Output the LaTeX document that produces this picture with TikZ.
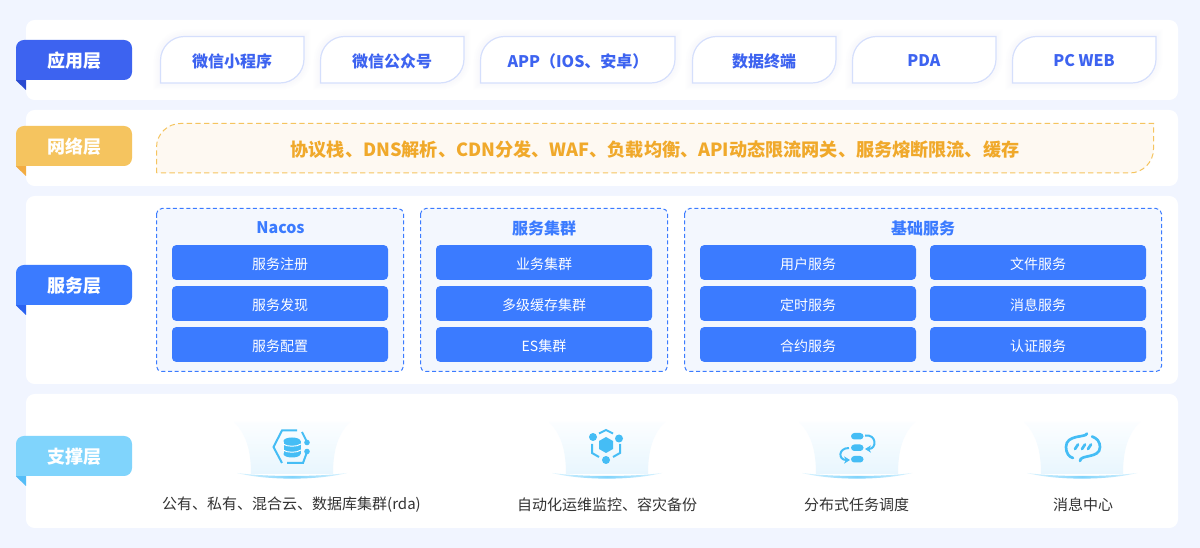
\documentclass[tikz,border=0pt]{standalone}
\usepackage{fontspec}
\setmainfont{Noto Sans CJK SC}
\usetikzlibrary{arrows.meta}

\definecolor{pageBg}{HTML}{F1F5FF}
\definecolor{appBlue}{HTML}{3D63F0}
\definecolor{appFold}{HTML}{2A4AD0}
\definecolor{pillEdge}{HTML}{D5DFFC}
\definecolor{netGold}{HTML}{F5C45F}
\definecolor{netFold}{HTML}{F2AC42}
\definecolor{netFill}{HTML}{FEF9F2}
\definecolor{netText}{HTML}{F0A92B}
\definecolor{svcBlue}{HTML}{3B7BFF}
\definecolor{svcFold}{HTML}{2A62F0}
\definecolor{svcFill}{HTML}{F3F7FE}
\definecolor{supBlue}{HTML}{80D4FC}
\definecolor{supFold}{HTML}{55BDF7}
\definecolor{iconBlue}{HTML}{45BDF5}
\definecolor{baseFill}{HTML}{E8F6FE}
\definecolor{labelGrey}{HTML}{333333}

\tikzset{
    panelbox/.style={fill=white, rounded corners=6.5pt, draw=none},
    tagtext/.style={text=white, font=\fontsize{13.5pt}{15pt}\selectfont\bfseries, inner sep=0pt},
    pilltext/.style={text=appBlue, font=\fontsize{12pt}{14pt}\selectfont\bfseries, inner sep=0pt},
    grouptitle/.style={text=svcBlue, font=\fontsize{12pt}{14pt}\selectfont\bfseries, inner sep=0pt},
    groupbox/.style={draw=svcBlue, fill=svcFill, line width=0.75pt, dash pattern=on 3pt off 2pt, rounded corners=4pt},
    svcbox/.style={fill=svcBlue, text=white, rounded corners=3pt, minimum width=162pt, minimum height=26pt,
        inner sep=0pt, text height=10.5pt, text depth=0.5pt, font=\fontsize{10.5pt}{12pt}\selectfont},
    suplabel/.style={text=labelGrey, font=\fontsize{11.25pt}{13pt}\selectfont, inner sep=0pt},
    iconline/.style={draw=iconBlue, line width=1.5pt},
}

% Layer tag with its small fold
\newcommand{\layertag}[5]{
    \fill[#3] (16, #2+39) -- (26, #2+39) -- (26, #2+50) -- (16, #2+40.5) -- cycle;
    \fill[#4] (16, #2+40) -- (16, #2+8) .. controls (16, #2+3.5) and (19.5, #2) .. (24, #2) -- (124, #2)
        .. controls (128.5, #2) and (132, #2+3.5) .. (132, #2+8) -- (132, #2+32)
        .. controls (132, #2+36.5) and (128.5, #2+40) .. (124, #2+40) -- cycle;
    \node[tagtext] (#1) at (74, #2+21) {#5};
}

% Client pill, two corners rounded
\newcommand{\pillpath}[2]{(#1, 83) -- (#1, 60.5) .. controls (#1, 47.25) and (#1+10.75, 36.5) .. (#1+24, 36.5) -- (#2, 36.5)
    -- (#2, 59) .. controls (#2, 72.25) and (#2-10.75, 83) .. (#2-24, 83) -- cycle}
\newcommand{\apppill}[5]{
    \foreach \w/\o in {10/0.03, 7/0.04, 4/0.05} {
        \draw[pillEdge, line width=\w pt, opacity=\o] \pillpath{#2}{#3};
    }
    \draw[pillEdge, fill=white, line width=0.9pt] \pillpath{#2}{#3};
    \node[pilltext] (#1) at (#4, 61) {#5};
}

% Pedestal under each support icon
\newcommand{\pedestal}[1]{
    \shade[top color=baseFill!15!white, bottom color=baseFill] (#1-58, 422) .. controls (#1-46, 434) and (#1-41, 450) .. (#1-41, 474)
        -- (#1+41, 474) .. controls (#1+41, 450) and (#1+46, 434) .. (#1+58, 422) -- cycle;
    \shade[left color=supBlue!25, right color=supBlue!25, middle color=supBlue]
        (#1-55, 473) .. controls (#1-25, 480.5) and (#1+25, 480.5) .. (#1+55, 473)
        .. controls (#1+25, 477) and (#1-25, 477) .. (#1-55, 473) -- cycle;
}

\begin{document}
\begin{tikzpicture}[x=0.75pt, y=-0.75pt]
    \useasboundingbox (0, 0) rectangle (1200, 548);
    \fill[pageBg] (0, 0) rectangle (1200, 548);

    % White panels
    \fill[panelbox] (26, 20) rectangle (1178, 100);
    \fill[panelbox] (26, 110) rectangle (1178, 186);
    \fill[panelbox] (26, 196) rectangle (1178, 384);
    \fill[panelbox] (26, 394) rectangle (1178, 528);

    % Layer tags
    \layertag{appTag}{40}{appFold}{appBlue}{应用层}
    \layertag{netTag}{126}{netFold}{netGold}{网络层}
    \layertag{svcTag}{265}{svcFold}{svcBlue}{服务层}
    \layertag{supTag}{436}{supFold}{supBlue}{支撑层}

    % Client row
    \apppill{pillMini}{160.5}{304}{232}{微信小程序}
    \apppill{pillOfficial}{320.5}{464}{392}{微信公众号}
    \apppill{pillApp}{480.5}{675}{578}{APP（IOS、安卓）}
    \apppill{pillData}{692.5}{836}{764}{数据终端}
    \apppill{pillPda}{852.5}{996}{924}{PDA}
    \apppill{pillWeb}{1012.5}{1156}{1084}{PC WEB}

    % Gateway strip
    \draw[netGold, fill=netFill, line width=0.75pt, dash pattern=on 4pt off 2.5pt]
        (156.5, 173) -- (156.5, 147.5) .. controls (156.5, 134.25) and (167.25, 123.5) .. (180.5, 123.5) -- (1153.5, 123.5)
        -- (1153.5, 149) .. controls (1153.5, 162.25) and (1142.75, 173) .. (1129.5, 173) -- cycle;
    \node[text=netText, font=\fontsize{13.6pt}{15pt}\selectfont\bfseries, inner sep=0pt] (netLine) at (655, 150)
        {协议栈、DNS解析、CDN分发、WAF、负载均衡、API动态限流网关、服务熔断限流、缓存};

    % Service groups
    \draw[groupbox] (156.5, 208.5) rectangle (403.5, 371.5);
    \draw[groupbox] (420.5, 208.5) rectangle (667.5, 371.5);
    \draw[groupbox] (684.5, 208.5) rectangle (1161.5, 371.5);
    \node[grouptitle] (titleNacos) at (280.5, 228) {Nacos};
    \node[grouptitle] (titleCluster) at (544, 228) {服务集群};
    \node[grouptitle] (titleBase) at (923, 228) {基础服务};

    \foreach \n/\x/\y/\t in {a1/280/262.5/服务注册, a2/280/303.5/服务发现, a3/280/344.5/服务配置,
        b1/544/262.5/业务集群, b2/544/303.5/多级缓存集群, b3/544/344.5/ES集群,
        c1/808/262.5/用户服务, c2/808/303.5/定时服务, c3/808/344.5/合约服务,
        d1/1038/262.5/文件服务, d2/1038/303.5/消息服务, d3/1038/344.5/认证服务} {
        \node[svcbox] (svc\n) at (\x, \y) {\t};
    }

    % Support row
    \foreach \x in {292, 607, 857, 1082} {
        \pedestal{\x}
    }
    \node[suplabel] (supCloud) at (291.5, 505) {公有、私有、混合云、数据库集群(rda)};
    \node[suplabel] (supOps) at (607, 505) {自动化运维监控、容灾备份};
    \node[suplabel] (supTask) at (856.5, 505) {分布式任务调度};
    \node[suplabel] (supMsg) at (1083, 505) {消息中心};

    % Database icon
    \draw[iconline] (297, 430.5) -- (282, 430.5) -- (273.5, 447) -- (282, 463);
    \draw[iconline] (287, 463) -- (303, 463) -- (307, 452);
    \draw[iconline] (302, 432) -- (307, 442);
    \fill[iconBlue] (307, 442.5) circle [radius=2.8];
    \fill[iconBlue] (307, 451.5) circle [radius=2.8];
    \fill[iconBlue] (283.5, 441) rectangle (300.5, 454);
    \fill[iconBlue] (292, 441) ellipse [x radius=8.5, y radius=3.5];
    \fill[iconBlue] (292, 454) ellipse [x radius=8.5, y radius=3.5];
    \draw[white, line width=0.7pt] (283, 444) .. controls (287, 447) and (297, 447) .. (301, 444);
    \draw[white, line width=0.7pt] (283, 450) .. controls (287, 453) and (297, 453) .. (301, 450);

    % Cluster icon
    \fill[iconBlue] (606, 437) -- (613, 441) -- (613, 449) -- (606, 453) -- (599, 449) -- (599, 441) -- cycle;
    \fill[iconBlue] (593, 437) circle [radius=4];
    \fill[iconBlue] (619, 438.5) circle [radius=4];
    \fill[iconBlue] (606, 460) circle [radius=4];
    \draw[iconline] (599, 433.5) -- (606, 430) -- (613, 433.5);
    \draw[iconline] (592, 444) -- (592, 453) -- (599, 457);
    \draw[iconline] (620, 444) -- (620, 453) -- (613, 457);

    % Schedule icon
    \fill[iconBlue, rounded corners=2.5pt] (851, 433) rectangle (863.5, 439.5);
    \fill[iconBlue, rounded corners=2.5pt] (851, 444.5) rectangle (863.5, 451);
    \fill[iconBlue, rounded corners=2.5pt] (851, 456) rectangle (863.5, 462.5);
    \draw[iconline, -{Stealth[length=4.5pt, width=5.5pt]}] (865, 435.5) .. controls (877, 434) and (877, 449) .. (865, 449);
    \draw[iconline, -{Stealth[length=4.5pt, width=5.5pt]}] (849, 448) .. controls (838, 448) and (838, 460) .. (850, 460);

    % Message icon
    \draw[iconline, line width=2pt, line cap=round] (1087, 433.5) .. controls (1086, 438) and (1066, 434) .. (1066, 447)
        .. controls (1066, 453) and (1069, 457) .. (1073, 458);
    \draw[iconline, line width=2pt, line cap=round] (1092, 436.5) .. controls (1097, 438) and (1100, 442) .. (1100, 447)
        .. controls (1100, 459) and (1080, 454) .. (1080, 461);
    \foreach \x in {1075, 1082, 1088} {
        \draw[iconline, line width=2pt, line cap=round] (\x, 449) -- (\x+3, 444.5);
    }
\end{tikzpicture}
\end{document}
